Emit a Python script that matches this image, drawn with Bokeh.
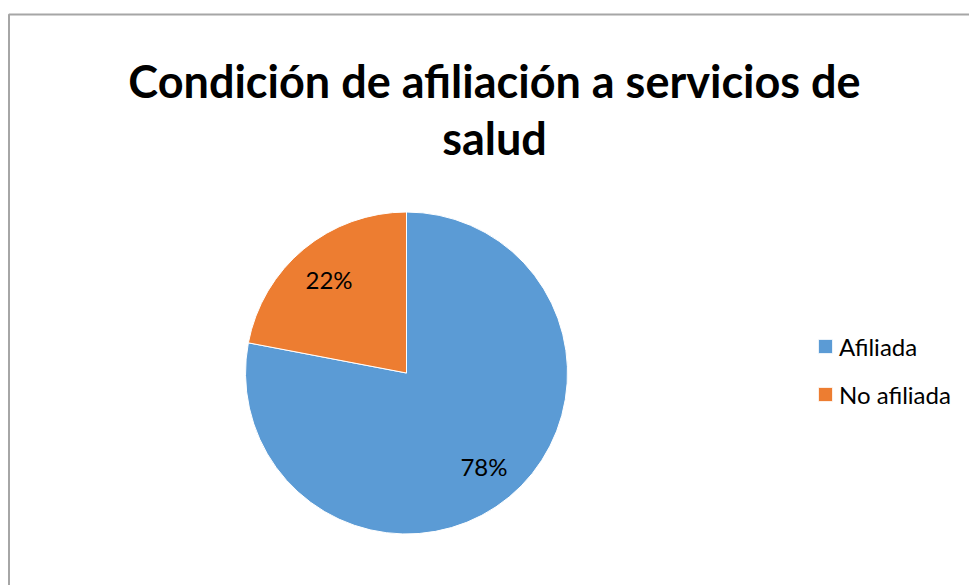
import math
from bokeh.plotting import figure
from bokeh.models import Range1d, Legend, LegendItem
from bokeh.core.properties import value
from bokeh.embed import file_html
from bokeh.resources import INLINE

# ---- data ----
title_lines = ["Condición de afiliación a servicios de", "salud"]
categories = ["Afiliada", "No afiliada"]
values = [78, 22]
colors = ["#5B9BD5", "#ED7D31"]

W, H = 969, 585
FONT = "Lato"

p = figure(width=W, height=H, output_backend="svg", toolbar_location=None,
           x_range=Range1d(0, W), y_range=Range1d(0, H), min_border=0,
           tools="")
p.axis.visible = False
p.grid.visible = False
p.outline_line_color = None
p.background_fill_color = "white"
p.border_fill_color = "white"

# chart-area border (top and left visible, rest cropped)
p.line(x=[8.5, 8.5, W + 5], y=[-5, 571, 571], line_color="#a6a6a6", line_width=2)

# pie geometry
cx, cy, r = 406, 212.5, 161
total = sum(values)
starts, ends, mids = [], [], []
acc = 0.0
for v in values:
    a0 = math.pi / 2 - 2 * math.pi * (acc + v) / total
    a1 = math.pi / 2 - 2 * math.pi * acc / total
    starts.append(a0)
    ends.append(a1)
    mids.append((a0 + a1) / 2)
    acc += v

renderers = []
for i in range(len(categories)):
    rr = p.wedge(x=cx, y=cy, radius=r, start_angle=starts[i], end_angle=ends[i],
                 fill_color=colors[i], line_color="white", line_width=1)
    renderers.append(rr)

# percentage labels
lx = [cx + 0.755 * r * math.cos(m) for m in mids]
ly = [cy + 0.755 * r * math.sin(m) for m in mids]
labels = [f"{round(100 * v / total)}%" for v in values]
p.text(x=lx, y=ly, text=labels, text_align="center", text_baseline="middle",
       text_font=value(FONT), text_font_size="24px", text_color="#000000")

# title
p.text(x=[494, 494], y=[505, 448], text=title_lines, text_align="center",
       text_baseline="alphabetic", text_font=value(FONT), text_font_style="bold",
       text_font_size="45px", text_color="#000000")

legend = Legend(items=[LegendItem(label=c, renderers=[rr]) for c, rr in zip(categories, renderers)],
                location=(816, 176), orientation="vertical",
                glyph_width=18, glyph_height=18, label_standoff=5,
                label_height=30, spacing=18, padding=0, margin=0,
                border_line_alpha=0, background_fill_alpha=0,
                label_text_font=FONT, label_text_font_size="24px",
                label_text_color="#000000")
p.add_layout(legend, "center")

open("out.html", "w").write(file_html(p, INLINE))
